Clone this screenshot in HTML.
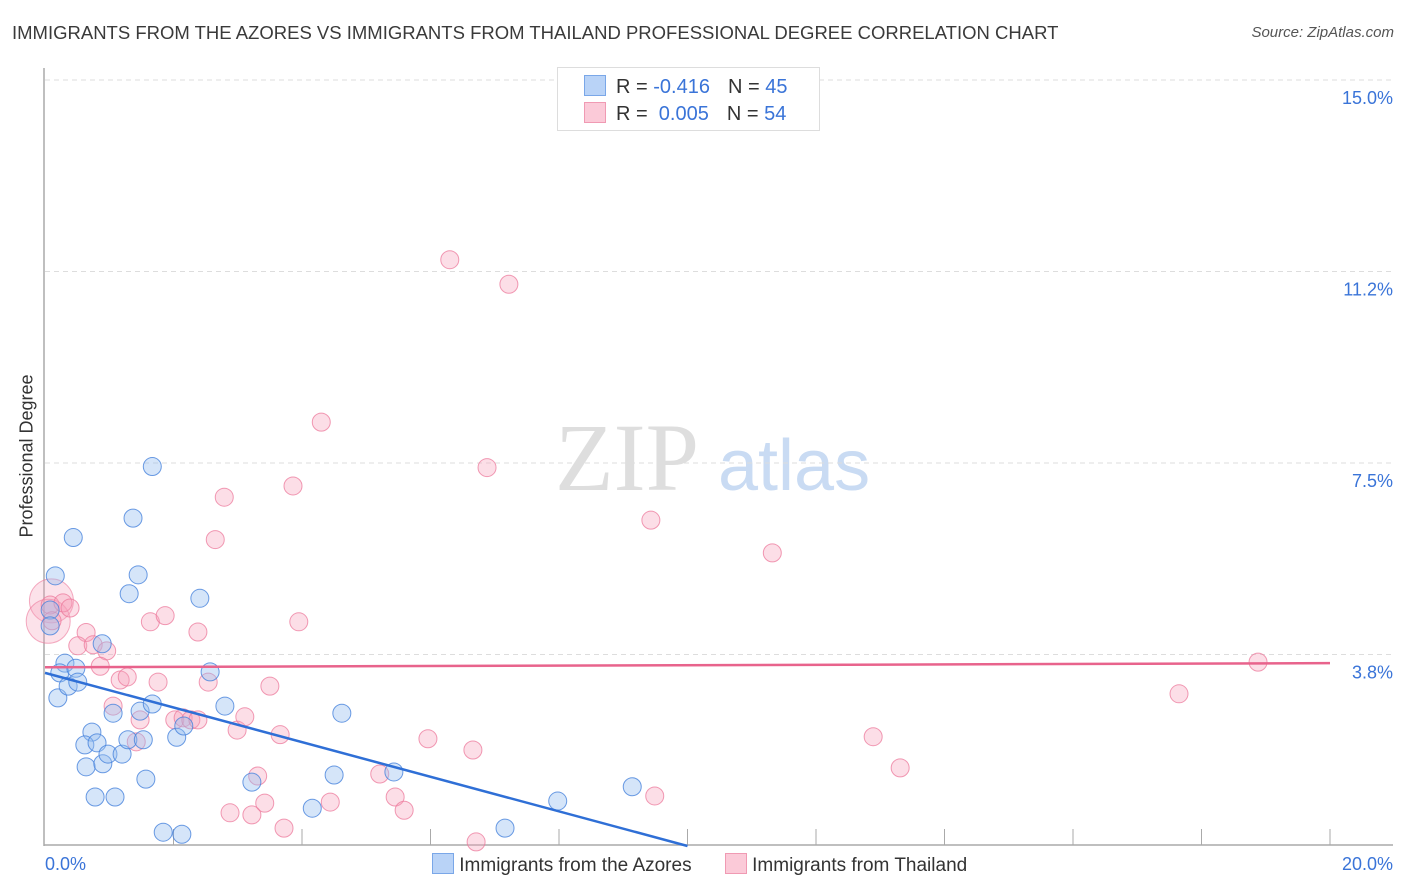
<!DOCTYPE html>
<html><head><meta charset="utf-8">
<style>
body{margin:0;background:#fff;font-family:"Liberation Sans",sans-serif;}
#wrap{position:relative;width:1406px;height:892px;overflow:hidden;}
.t{position:absolute;white-space:nowrap;}
</style></head>
<body>
<div id="wrap">
<div class="t" style="left:12px;top:22px;font-size:18.5px;color:#3a3a3a;">IMMIGRANTS FROM THE AZORES VS IMMIGRANTS FROM THAILAND PROFESSIONAL DEGREE CORRELATION CHART</div>
<div class="t" style="right:12px;top:24px;font-size:15px;color:#555;font-style:italic;">Source: ZipAtlas.com</div>
<div class="t" style="left:27px;top:456px;font-size:18px;color:#333;transform:translate(-50%,-50%) rotate(-90deg);">Professional Degree</div>
<svg id="svg" width="1406" height="892" style="position:absolute;left:0;top:0"></svg>
<div style="position:absolute;left:557px;top:67px;width:261px;height:62px;border:1px solid #ddd;background:#fff;font-size:20px;">
  <div style="position:absolute;left:26px;top:7px;"><span style="display:inline-block;width:20px;height:19px;background:#b9d3f7;border:1px solid #7aa7e8;vertical-align:-3px;"></span><span style="color:#333;margin-left:10px;">R = </span><span style="color:#3a74d8;">-0.416</span><span style="color:#333;margin-left:18px;">N = </span><span style="color:#3a74d8;">45</span></div>
  <div style="position:absolute;left:26px;top:34px;"><span style="display:inline-block;width:20px;height:19px;background:#fbcad8;border:1px solid #f09ab3;vertical-align:-3px;"></span><span style="color:#333;margin-left:10px;">R = </span><span style="color:#3a74d8;">&nbsp;0.005</span><span style="color:#333;margin-left:18px;">N = </span><span style="color:#3a74d8;">54</span></div>
</div>
<div style="position:absolute;left:432px;top:853px;font-size:19px;color:#333;">
  <span><span style="display:inline-block;width:20px;height:19px;background:#b9d3f7;border:1px solid #7aa7e8;vertical-align:-3px;"></span> Immigrants from the Azores</span>
  <span style="margin-left:28px;"><span style="display:inline-block;width:20px;height:19px;background:#fbcad8;border:1px solid #f09ab3;vertical-align:-3px;"></span> Immigrants from Thailand</span>
</div>
</div>
<script>
const yTicks=[15.0,11.25,7.5,3.75];
const yTickLabels=["15.0%","11.2%","7.5%","3.8%"];
const xTickLabels=["0.0%","20.0%"];
const azoresX=[0.08,0.16,0.08,0.44,0.31,0.23,0.2,0.36,0.48,0.51,0.73,0.62,0.81,0.64,0.9,0.98,1.2,0.78,1.09,0.89,1.06,1.29,1.48,1.53,1.67,1.57,1.45,1.31,1.37,1.67,1.84,2.13,2.05,2.16,2.41,2.57,2.8,3.22,4.16,4.5,4.62,5.43,7.16,7.98,9.14];
const azoresY=[4.62,5.29,4.31,6.04,3.58,3.39,2.9,3.13,3.48,3.21,2.23,1.98,2.02,1.55,1.61,1.8,1.8,0.96,0.96,3.96,2.6,2.08,2.64,2.08,2.78,1.31,5.31,4.94,6.42,7.43,0.27,0.23,2.13,2.35,4.85,3.41,2.74,1.25,0.74,1.39,2.6,1.45,0.35,0.88,1.16];
const thaiX=[0.08,0.28,0.39,0.11,0.64,0.51,0.75,0.96,0.86,1.17,1.28,1.06,1.48,1.42,1.64,1.87,1.76,2.02,2.15,2.27,2.38,2.54,2.65,2.79,2.99,3.11,3.66,2.88,3.22,3.42,3.72,3.5,3.95,3.86,4.3,4.44,5.21,5.45,5.59,5.96,6.3,6.66,6.71,6.88,7.22,9.43,9.49,11.32,12.89,13.31,17.65,18.88,3.31,2.38];
const thaiY=[4.72,4.76,4.66,4.41,4.18,3.92,3.94,3.82,3.52,3.25,3.31,2.74,2.47,2.04,4.39,4.51,3.21,2.47,2.51,2.47,4.19,3.21,6.0,6.83,2.27,2.53,2.18,0.65,0.61,0.84,0.35,3.13,4.39,7.05,8.3,0.86,1.41,0.96,0.7,2.1,11.48,1.88,0.08,7.41,11.0,6.38,0.98,5.74,2.14,1.53,2.98,3.6,1.37,2.47];
const bigThaiX=[0.1,0.05];
const bigThaiY=[4.8,4.4];
const ns="http://www.w3.org/2000/svg";
const svg=document.getElementById('svg');
function X(v){return 45+v*64.25;}
function Y(v){return 846-v*51.07;}
function mk(tag,attrs){const e=document.createElementNS(ns,tag);for(const k in attrs)e.setAttribute(k,attrs[k]);svg.appendChild(e);return e;}
let wm=mk('text',{x:555,y:490,'font-size':96,fill:'#dedede','font-family':'Liberation Serif, serif'});wm.textContent='ZIP';


let wm2=mk('text',{x:718,y:490,'font-size':72,fill:'#c9dbf3','font-family':'Liberation Sans, sans-serif'});wm2.textContent='atlas';


yTicks.forEach((v,i)=>{
  const g=mk('line',{x1:45,x2:1393,y1:Y(v),y2:Y(v),stroke:'#ddd','stroke-dasharray':'5,4'});
  
  
  const t=mk('text',{x:1393,y:Y(v)+24,'text-anchor':'end','font-size':18,fill:'#3a74d8','font-family':'Liberation Sans, sans-serif'});
  t.textContent=yTickLabels[i];
  
  
});
let ax=mk('line',{x1:44,x2:44,y1:68,y2:846,stroke:'#aaa','stroke-width':1.5});


let bx=mk('line',{x1:44,x2:1393,y1:845,y2:845,stroke:'#aaa','stroke-width':1.5});


for(let i=1;i<=10;i++){const tk=mk('line',{x1:X(i*2),x2:X(i*2),y1:829,y2:845,stroke:'#aaa'});

}
let xl0=mk('text',{x:45,y:870,'font-size':18,fill:'#3a74d8','font-family':'Liberation Sans, sans-serif'});xl0.textContent=xTickLabels[0];


let xl1=mk('text',{x:1393,y:870,'text-anchor':'end','font-size':18,fill:'#3a74d8','font-family':'Liberation Sans, sans-serif'});xl1.textContent=xTickLabels[1];


bigThaiX.forEach((x,i)=>{const c=mk('circle',{cx:X(x),cy:Y(bigThaiY[i]),r:22,fill:'rgba(246,160,185,0.3)',stroke:'rgba(236,120,155,0.6)','stroke-width':1});

});
thaiX.forEach((x,i)=>{const c=mk('circle',{cx:X(x),cy:Y(thaiY[i]),r:9,fill:'rgba(246,160,185,0.35)',stroke:'rgba(236,120,155,0.75)','stroke-width':1});

});
azoresX.forEach((x,i)=>{const c=mk('circle',{cx:X(x),cy:Y(azoresY[i]),r:9,fill:'rgba(150,190,240,0.4)',stroke:'rgba(70,130,220,0.8)','stroke-width':1});

});
let l1=mk('line',{x1:X(0),y1:Y(3.39),x2:X(10.0),y2:Y(0),stroke:'#2f6fd6','stroke-width':2.5});


let l2=mk('line',{x1:X(0),y1:Y(3.50),x2:X(20),y2:Y(3.58),stroke:'#e8638c','stroke-width':2.5});


</script>
</body></html>
